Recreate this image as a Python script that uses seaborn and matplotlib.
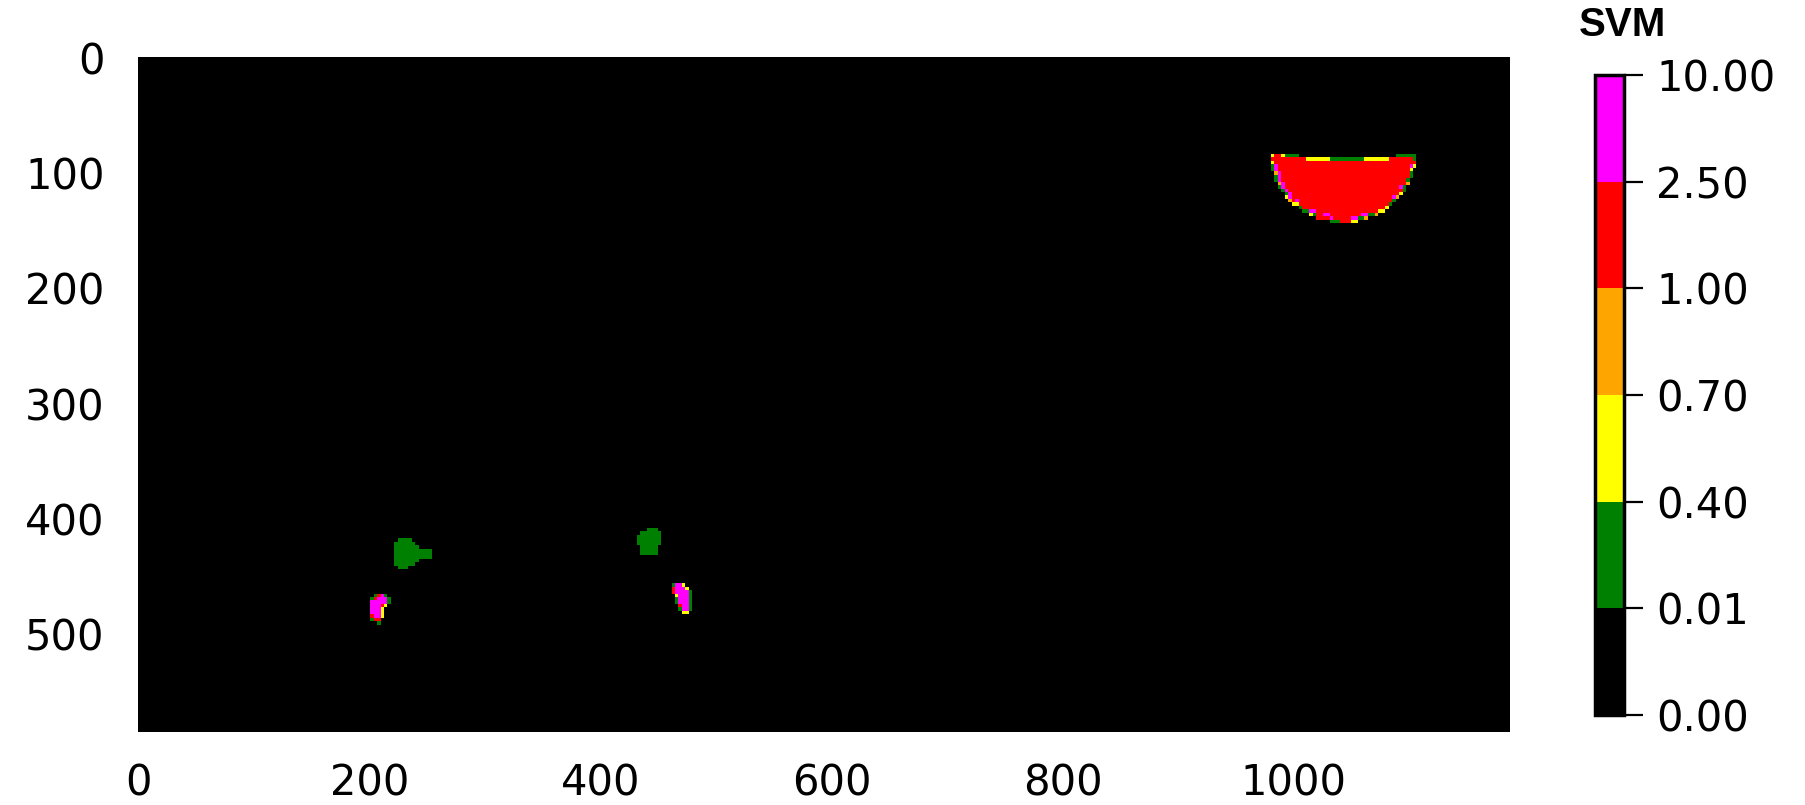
import numpy as np
import matplotlib
matplotlib.use("Agg")
import matplotlib.pyplot as plt
from matplotlib.colors import ListedColormap, BoundaryNorm
import seaborn as sns

# ---------------- data ----------------
boundaries = [0.0, 0.01, 0.4, 0.7, 1.0, 2.5, 10.0]
bin_colors = ["black", "green", "yellow", "orange", "red", "magenta"]
tick_labels = ["0.00", "0.01", "0.40", "0.70", "1.00", "2.50", "10.00"]
x_ticks = [0, 200, 400, 600, 800, 1000]
y_ticks = [0, 100, 200, 300, 400, 500]

# image size (data units) and the block size of the visible pixels
img_w, img_h = 1188, 585
cell = 3

# class codes -> representative value in each bin
code_value = {".": 0.0, "G": 0.2, "Y": 0.55, "O": 0.85, "R": 1.5, "M": 5.0}

# half-disc region (data units)
semi_cx, semi_top, semi_half_w, semi_depth = 1043, 84, 63, 59
semi_top_row1 = "YRRYGGGG" + "." * 28 + "GGGGGG"
semi_top_row2 = "R" * 10 + "Y" * 7 + "G" * 10 + "Y" * 7 + "R" * 7 + "G"
semi_rim = "RYGOGOGGYOYGGYGRRGGRRYGOGOYYGGOYGOGGYRG"
semi_inner = "MMMMMMMMMRMRRMRRMMRRRMRMRRRRRMRRMRRRMRR"

# small regions: (col, row) of the top-left block, rows of codes
blob_green_1 = (74, 139, [
    ".GGGG......",
    "GGGGGG.....",
    "GGGGGGG....",
    "GGGGGGGGGGG",
    "GGGGGGGGGGG",
    "GGGGGGGGGGG",
    "GGGGGGG....",
    "GGGGGG.....",
    ".GGG.......",
])
blob_mag_1 = (67, 155, [
    ".GRMG.",
    "GRMMMG",
    "MMMMMG",
    "MMMRY.",
    "MMMY..",
    "MMMY..",
    "RMMY..",
    "GRR...",
    "..G...",
])
blob_green_2 = (144, 136, [
    "...GGG.",
    ".GGGGGG",
    "GGGGGGG",
    "GGGGGGG",
    "GGGGGGG",
    ".GGGGG.",
    ".GGGGG.",
    ".GGGGG.",
])
blob_mag_2 = (154, 152, [
    "GMMY..",
    "RMMMY.",
    "RMMMMG",
    ".YMMMG",
    ".GMMMG",
    ".GMMMG",
    "..RMMG",
    "..GMMG",
    "...YY.",
])

# ---------------- build grid ----------------
nrows, ncols = img_h // cell, img_w // cell
grid = np.zeros((nrows, ncols))

# half disc
rr, cc = np.mgrid[0:nrows, 0:ncols]
xc = cc * cell + 1.0
yc = rr * cell + 1.0
dx = (xc - semi_cx) / semi_half_w
dy = (yc - semi_top) / semi_depth
inside = (dy >= 0) & (dx ** 2 + dy ** 2 <= 1.0)
grid[inside] = code_value["R"]

pad = np.pad(inside, 1, constant_values=False)
nb_out = (~pad[:-2, 1:-1]) | (~pad[2:, 1:-1]) | (~pad[1:-1, :-2]) | (~pad[1:-1, 2:])
rows_in = np.where(inside.any(axis=1))[0]
top_r = rows_in.min()
theta = np.arctan2(dy, -dx)
rim = inside & nb_out & (rr > top_r + 1)
for r, c in zip(*np.where(rim)):
    k = min(int(theta[r, c] / np.pi * len(semi_rim)), len(semi_rim) - 1)
    grid[r, c] = code_value[semi_rim[k]]
padr = np.pad(rim, 1, constant_values=False)
nb_rim = padr[:-2, 1:-1] | padr[2:, 1:-1] | padr[1:-1, :-2] | padr[1:-1, 2:]
inner = inside & ~rim & nb_rim & (rr > top_r + 2)
for r, c in zip(*np.where(inner)):
    k = min(int(theta[r, c] / np.pi * len(semi_inner)), len(semi_inner) - 1)
    grid[r, c] = code_value[semi_inner[k]]
cols_top = np.where(inside[top_r])[0]
c0 = cols_top.min()
for i, ch in enumerate(semi_top_row1):
    if c0 + i < ncols:
        grid[top_r, c0 + i] = code_value[ch]
for i, ch in enumerate(semi_top_row2):
    if c0 + i < ncols and inside[top_r + 1, c0 + i]:
        grid[top_r + 1, c0 + i] = code_value[ch]

for col0, row0, rows in [blob_green_1, blob_mag_1, blob_green_2, blob_mag_2]:
    for i, line in enumerate(rows):
        for j, ch in enumerate(line):
            if ch != ".":
                grid[row0 + i, col0 + j] = code_value[ch]

# ---------------- plot ----------------
sns.set_style("white")
plt.rcParams["font.family"] = ["DejaVu Sans"]
plt.rcParams["text.color"] = "black"
plt.rcParams["xtick.color"] = "black"
plt.rcParams["ytick.color"] = "black"
plt.rcParams["axes.labelcolor"] = "black"

cmap = ListedColormap(bin_colors)
norm = BoundaryNorm(boundaries, cmap.N)

fig = plt.figure(figsize=(18.06, 8.05), dpi=100)
ax = fig.add_axes([0.0764, 0.0907, 0.7597, 0.8385])
cax = fig.add_axes([0.8832, 0.1118, 0.0161, 0.795])

sns.heatmap(grid, ax=ax, cbar_ax=cax, cmap=cmap, norm=norm,
            xticklabels=False, yticklabels=False,
            cbar_kws={"ticks": boundaries, "spacing": "uniform"})

ax.set_xticks([(v + 0.5) / cell for v in x_ticks])
ax.set_xticklabels([str(v) for v in x_ticks], rotation=0)
ax.set_yticks([(v + 0.5) / cell for v in y_ticks])
ax.set_yticklabels([str(v) for v in y_ticks], rotation=0)
ax.tick_params(axis="both", which="major", length=14, width=1.6,
               labelsize=30, color="black", labelcolor="black")
ax.tick_params(axis="x", pad=8)
ax.tick_params(axis="y", pad=10)
ax.set_xlabel("")
ax.set_ylabel("")

cb = ax.collections[0].colorbar
cb.set_ticks(boundaries)
cb.set_ticklabels(tick_labels)
cb.outline.set_linewidth(2.5)
cb.outline.set_edgecolor("black")
cax.tick_params(length=14, width=1.6, labelsize=30, pad=9,
                color="black", labelcolor="black")

fig.text(1622 / 1806, 1 - 25 / 805, "SVM", ha="center", va="center",
         fontsize=29, fontweight="bold", color="black",
         family=["Liberation Sans", "DejaVu Sans"])

fig.savefig("out.png", dpi=100)
